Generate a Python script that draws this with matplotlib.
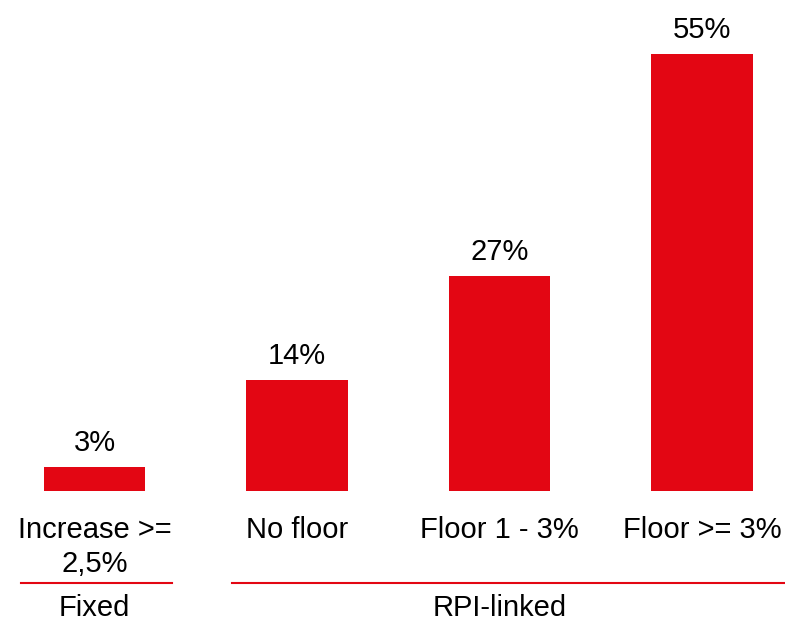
import matplotlib
matplotlib.use("Agg")
import matplotlib.pyplot as plt

categories = ["Increase >=\n2,5%", "No floor", "Floor 1 - 3%", "Floor >= 3%"]
values = [3, 14, 27, 55]
groups = ["Fixed", "RPI-linked"]

RED = "#E30613"
plt.rcParams["font.family"] = ["Liberation Sans", "DejaVu Sans"]

fig = plt.figure(figsize=(7.85, 6.25), dpi=100)
ax = fig.add_axes([0, 0.2144, 1, 0.7627])

x = list(range(len(values)))
ax.bar(x, values, width=0.5, color=RED)
ax.set_xlim(-0.4667, 3.41)
ax.set_ylim(0, 60)
ax.axis("off")

# value labels above bars
for xi, v in zip(x, values):
    ax.annotate(f"{v}%", (xi, v), xytext=(0, 17.3), textcoords="offset points",
                ha="center", va="center", fontsize=21, color="black")

# category labels below bars
trans = ax.get_xaxis_transform()
for xi, lab in zip(x, categories):
    ax.text(xi, -0.052, lab, transform=trans, ha="center", va="top",
            fontsize=21, linespacing=1.3, clip_on=False)

# group lines and labels
ax.plot([-0.363, 0.383], [-0.193, -0.193], transform=trans, color=RED,
        lw=1.5, clip_on=False)
ax.plot([0.679, 3.41], [-0.193, -0.193], transform=trans, color=RED,
        lw=1.5, clip_on=False)
ax.text(0, -0.246, groups[0], transform=trans, ha="center", va="center",
        fontsize=21, clip_on=False)
ax.text(2, -0.246, groups[1], transform=trans, ha="center", va="center",
        fontsize=21, clip_on=False)

fig.savefig("out.png", dpi=100)
